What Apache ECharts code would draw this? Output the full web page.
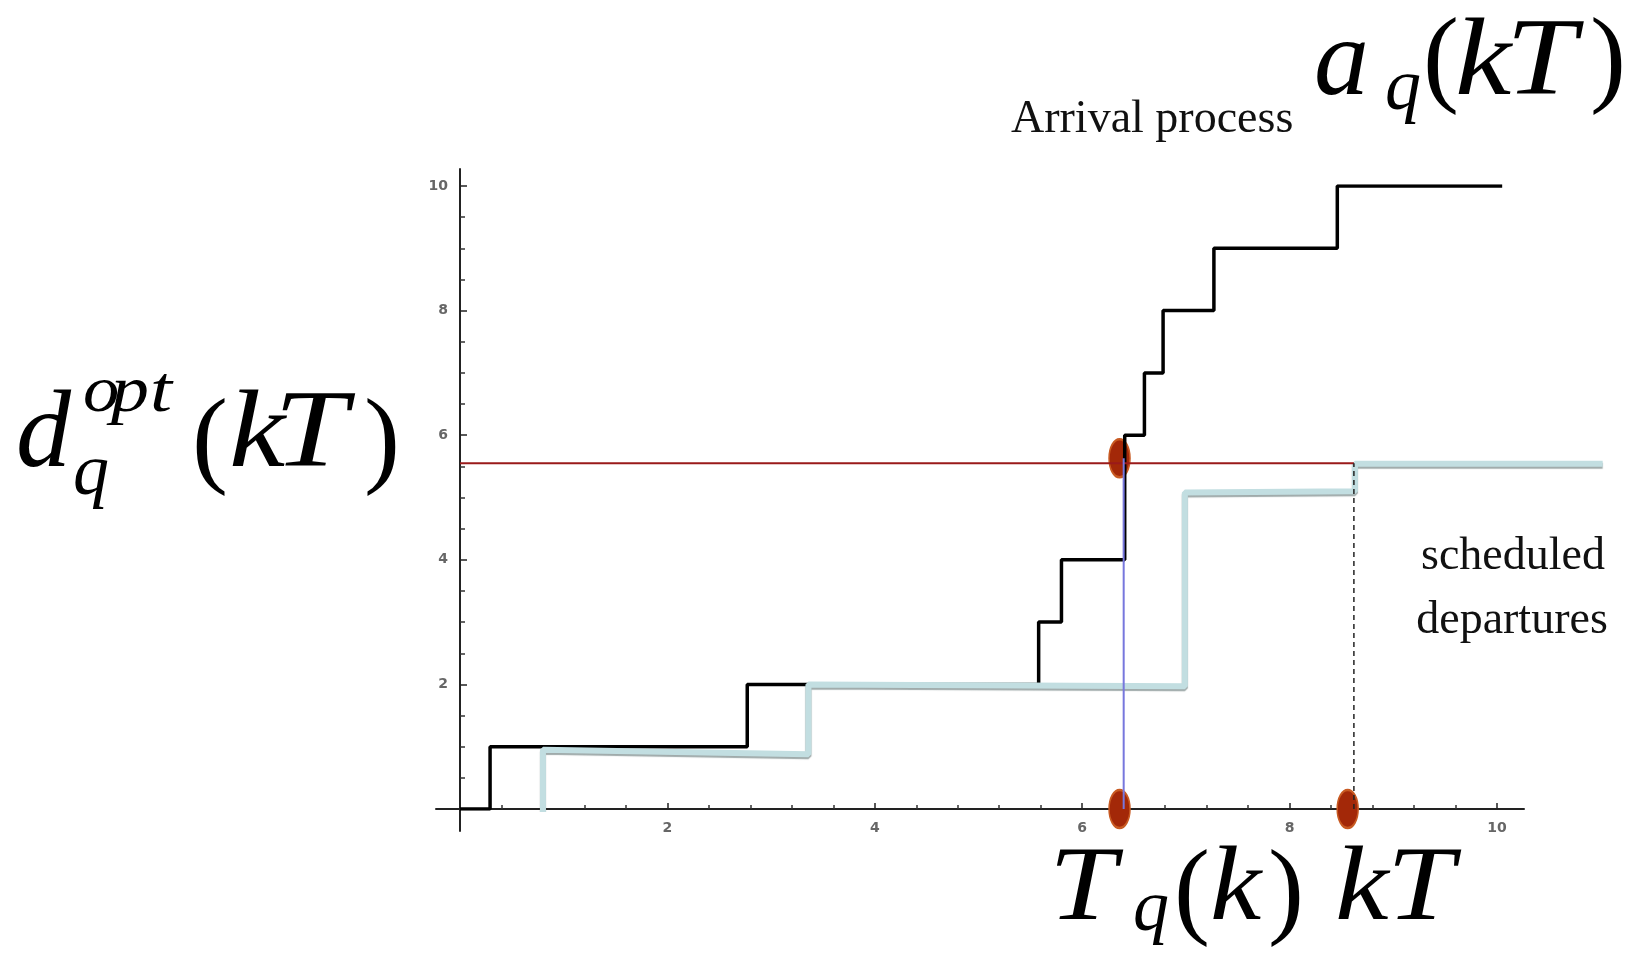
<!DOCTYPE html>
<html>
<head>
<meta charset="utf-8">
<title>Arrival process vs scheduled departures</title>
<script src="https://cdn.jsdelivr.net/npm/echarts@6/dist/echarts.min.js"></script>
<style>
  html, body { margin: 0; padding: 0; background: #fff; }
  #main { width: 1629px; height: 954px; }
</style>
</head>
<body>
<div id="main"></div>
<script>
// ---- data ----
var arrivalT = [0, 0.29, 2.77, 5.58, 5.80, 6.41, 6.60, 6.78, 7.27, 8.46, 10.05];
var arrivalN = [0, 1, 2, 3, 4, 6, 7, 8, 9, 10, 10];
var departX = [0.80, 0.80, 3.36, 3.36, 6.99, 6.99, 8.63, 8.63, 10.99];
var departY = [0, 0.95, 0.88, 2.00, 1.97, 5.08, 5.10, 5.54, 5.54];
var dOpt = 5.55;      // red level
var tq = 6.40;        // T_q(k)
var kT = 8.62;        // kT
var dotX = [6.36, 6.36, 8.56];
var dotY = [5.63, 0, 0];
var xTickLabels = [2, 4, 6, 8, 10];
var yTickLabels = [2, 4, 6, 8, 10];

function zip(a, b) {
  var out = [];
  for (var i = 0; i < a.length; i++) out.push([a[i], b[i]]);
  return out;
}

// math glyphs: [text, left, baseline, size, italic, scaleX]
var serif = '"Liberation Serif", "DejaVu Serif", serif';
var formulaA = [
  ['a', 1314, 102, 110, 1, 1], ['q', 1385, 115, 72, 1, 1], ['(', 1423, 100, 108, 0, 1],
  ['k', 1455, 102, 110, 1, 1.15], ['T', 1506, 102, 110, 1, 1.15], [')', 1590, 100, 108, 0, 1]
];
var formulaD = [
  ['d', 16, 474, 110, 1, 1], ['o', 83, 416, 66, 1, 1.1], ['p', 111, 416, 66, 1, 1.15], ['t', 150, 416, 66, 1, 1.2],
  ['q', 73, 500, 72, 1, 1], ['(', 192, 481, 108, 0, 1], ['k', 229, 474, 110, 1, 1.15],
  ['T', 274, 474, 110, 1, 1.2], [')', 364, 481, 108, 0, 1]
];
var formulaT = [
  ['T', 1049, 927, 105, 1, 1.15], ['q', 1133, 936, 72, 1, 1], ['(', 1174, 932, 108, 0, 1],
  ['k', 1210, 927, 105, 1, 1.1], [')', 1268, 932, 108, 0, 1],
  ['k', 1335, 927, 105, 1, 1.15], ['T', 1387, 927, 105, 1, 1.15]
];

function glyphs(list) {
  return list.map(function (g) {
    return {
      type: 'text', x: g[1], y: g[2] - 0.34 * g[3], scaleX: g[5], silent: true,
      style: {
        text: g[0], fill: '#000', align: 'left', verticalAlign: 'middle',
        font: (g[4] ? 'italic ' : '') + g[3] + 'px ' + serif
      }
    };
  });
}

function plainText(t, x, baseline, size, align) {
  return {
    type: 'text', x: x, y: baseline - 0.34 * size, silent: true,
    style: { text: t, fill: '#111', align: align, verticalAlign: 'middle', font: size + 'px ' + serif }
  };
}

var chart = echarts.init(document.getElementById('main'));

var off = { show: false };
var option = {
  backgroundColor: '#fff',
  animation: false,
  grid: [
    // 0: long axis lines that stick out past 0..10
    { left: 436, top: 169, width: 1088, height: 662, outerBoundsMode: 'none' },
    // 1: ticks/labels, 0..10
    { left: 460, top: 186, width: 1037, height: 623, outerBoundsMode: 'none' },
    // 2: same scale, but x runs to 11 so the departures line can run past the axis
    { left: 460, top: 186, width: 1140.7, height: 623, outerBoundsMode: 'none' }
  ],
  xAxis: [
    {
      gridIndex: 0, type: 'value', min: -0.2314, max: 10.26,
      axisLine: { onZero: true, lineStyle: { color: '#222', width: 2 } },
      axisTick: off, axisLabel: off, splitLine: off
    },
    {
      gridIndex: 1, type: 'value', min: 0, max: 10, interval: 2,
      axisLine: { show: false },
      axisTick: { show: true, inside: true, length: 6, lineStyle: { color: '#222', width: 1.5 } },
      minorTick: { show: true, splitNumber: 5, length: 4, lineStyle: { color: '#333', width: 1.5 } },
      axisLabel: {
        margin: 12, color: '#666', fontSize: 14, fontWeight: 'bold', fontFamily: 'DejaVu Sans',
        formatter: function (v) { return xTickLabels.indexOf(v) >= 0 ? String(v) : ''; }
      },
      splitLine: off
    },
    { gridIndex: 2, type: 'value', min: 0, max: 11, show: false, splitLine: off }
  ],
  yAxis: [
    {
      gridIndex: 0, type: 'value', min: -0.353, max: 10.273,
      axisLine: { onZero: true, lineStyle: { color: '#222', width: 2 } },
      axisTick: off, axisLabel: off, splitLine: off
    },
    {
      gridIndex: 1, type: 'value', min: 0, max: 10, interval: 2,
      axisLine: { show: false },
      axisTick: { show: true, inside: true, length: 7, lineStyle: { color: '#222', width: 1.5 } },
      minorTick: { show: true, splitNumber: 4, length: 5, lineStyle: { color: '#333', width: 1.5 } },
      axisLabel: {
        margin: 12, color: '#666', fontSize: 14, fontWeight: 'bold', fontFamily: 'DejaVu Sans',
        formatter: function (v) { return yTickLabels.indexOf(v) >= 0 ? String(v) : ''; }
      },
      splitLine: off
    },
    { gridIndex: 2, type: 'value', min: 0, max: 10, show: false, splitLine: off }
  ],
  series: [
    {
      name: 'arrivals', type: 'line', xAxisIndex: 2, yAxisIndex: 2, step: 'end',
      data: zip(arrivalT, arrivalN), symbol: 'none',
      lineStyle: { color: '#000', width: 3.5 }
    },
    {
      name: 'departures', type: 'line', xAxisIndex: 2, yAxisIndex: 2,
      data: zip(departX, departY), symbol: 'none',
      lineStyle: {
        color: '#c2dee1', width: 6, cap: 'square',
        shadowColor: 'rgba(80,100,100,0.55)', shadowOffsetY: 2, shadowBlur: 1
      }
    },
    {
      name: 'level', type: 'line', xAxisIndex: 2, yAxisIndex: 2,
      data: [[0, dOpt], [kT, dOpt]], symbol: 'none',
      lineStyle: { color: '#9a1a1a', width: 2 }
    },
    {
      name: 'Tq', type: 'line', xAxisIndex: 2, yAxisIndex: 2,
      data: [[tq, 0], [tq, dotY[0]]], symbol: 'none',
      lineStyle: { color: '#7777dd', width: 2 }
    },
    {
      name: 'kT', type: 'line', xAxisIndex: 2, yAxisIndex: 2,
      data: [[kT, 0], [kT, dOpt]], symbol: 'none',
      lineStyle: { color: '#222', width: 1.5, type: [5, 4] }
    },
    {
      name: 'dots', type: 'scatter', xAxisIndex: 2, yAxisIndex: 2, clip: false,
      data: zip(dotX, dotY), symbol: 'circle', symbolSize: [21, 38],
      itemStyle: { color: '#a32808', borderColor: '#c85a22', borderWidth: 2, opacity: 1 }
    }
  ],
  graphic: {
    elements: [].concat(
      glyphs(formulaA), glyphs(formulaD), glyphs(formulaT),
      [
        plainText('Arrival process', 1011, 136, 46, 'left'),
        plainText('scheduled', 1513, 573, 46, 'center'),
        plainText('departures', 1512, 637, 46, 'center')
      ]
    )
  }
};

chart.setOption(option);
</script>
</body>
</html>
